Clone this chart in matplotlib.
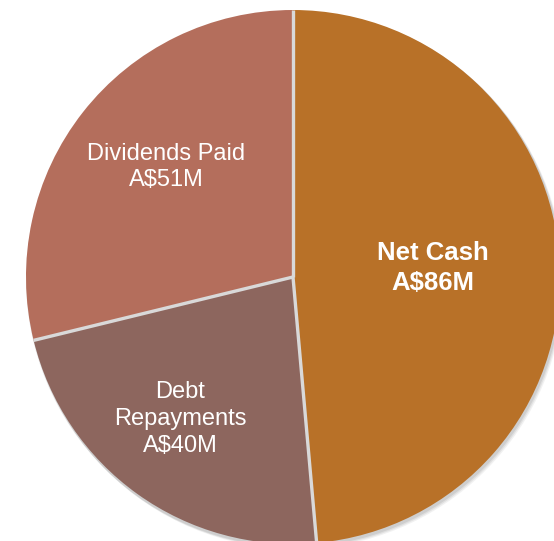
import numpy as np
import matplotlib.pyplot as plt
from matplotlib.patches import Circle

plt.rcParams['font.family'] = ['Liberation Sans', 'DejaVu Sans']

categories = ['Net Cash', 'Debt\nRepayments', 'Dividends Paid']
amounts = [86, 40, 51]   # A$ millions
colors = ['#B87128', '#8D665E', '#B46E5C']

W, H = 554, 541
fig = plt.figure(figsize=(W / 100, H / 100), dpi=100)
ax = fig.add_axes([0, 0, 1, 1])

cx, cy, r = 293, H - 277, 267

# soft drop shadow under the pie
for i, a in enumerate([0.10, 0.14, 0.18]):
    ax.add_patch(Circle((cx + 3 - i, cy - 4 + i), r + 1, color='#7f7f7f',
                        alpha=a, lw=0, zorder=0))

wedges, _ = ax.pie(amounts, colors=colors, startangle=90, counterclock=False,
                   center=(cx, cy), radius=r, frame=True,
                   wedgeprops=dict(linewidth=0))

# light separators between slices only (no outer rim)
bounds = 90 - 360 * np.cumsum([0] + amounts[:-1]) / sum(amounts)
for ang in np.deg2rad(bounds):
    ax.plot([cx, cx + r * np.cos(ang)], [cy, cy + r * np.sin(ang)],
            color='#D9D9D9', lw=2.4, solid_capstyle='butt', zorder=3)

ax.set_xlim(0, W)
ax.set_ylim(0, H)
ax.set_aspect('equal')
ax.axis('off')

labels = [f'{c}\nA${v}M' for c, v in zip(categories, amounts)]
text_pos = [(433, H - 268), (180, H - 419), (166, H - 167)]
for lab, (x, y), bold in zip(labels, text_pos, [True, False, False]):
    ax.text(x, y, lab, ha='center', va='center', color='white',
            fontsize=18.5 if bold else 17,
            fontweight='bold' if bold else 'normal',
            linespacing=1.28, zorder=4)

fig.savefig('out.png', dpi=100)
